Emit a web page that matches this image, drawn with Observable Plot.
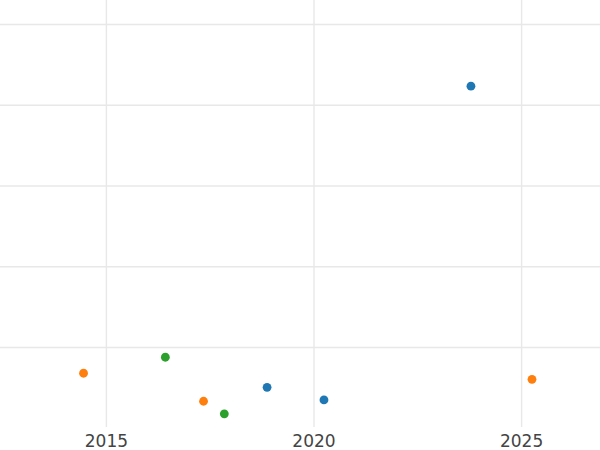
<!DOCTYPE html>
<html>
<head>
<meta charset="utf-8">
<script src="https://cdn.jsdelivr.net/npm/d3@7"></script>
<script src="https://cdn.jsdelivr.net/npm/@observablehq/plot@0.6"></script>
<style>
  html, body { margin: 0; padding: 0; background: #fff; }
  #chart svg { display: block; }
</style>
</head>
<body>
<div id="chart"></div>
<script>
const years  = [2014.45, 2016.42, 2017.34, 2017.84, 2018.87, 2020.24, 2023.78, 2025.25];
const values = [6.82, 8.8, 3.35, 1.79, 5.08, 3.52, 42.36, 6.07];
const groups = ["B", "C", "B", "C", "A", "A", "A", "B"];
const groupNames = ["A", "B", "C"];
const groupColors = ["#1f77b4", "#ff7f0e", "#2ca02c"];
const xTicks = [2015, 2020, 2025];
const yGrid = [10, 20, 30, 40, 50];

const data = years.map((x, i) => ({x, y: values[i], g: groups[i]}));

const chart = Plot.plot({
  width: 600,
  height: 450,
  marginLeft: 0,
  marginRight: 0,
  marginTop: 0,
  marginBottom: 23,
  style: {fontFamily: "DejaVu Sans", background: "#fff"},
  x: {domain: [2012.45, 2026.9], axis: null, label: null},
  y: {domain: [0.1, 52.97], axis: null, label: null},
  color: {domain: groupNames, range: groupColors},
  marks: [
    Plot.gridX(xTicks, {stroke: "#e8e8e8", strokeOpacity: 1, strokeWidth: 1.4}),
    Plot.gridY(yGrid, {stroke: "#e8e8e8", strokeOpacity: 1, strokeWidth: 1.4}),
    Plot.axisX(xTicks, {tickSize: 0, tickPadding: 7, fontSize: 17, fill: "#444", label: null, tickFormat: d => String(d)}),
    Plot.dot(data, {x: "x", y: "y", fill: "g", r: 4.4, stroke: "none"})
  ]
});
document.getElementById("chart").appendChild(chart);
</script>
</body>
</html>
